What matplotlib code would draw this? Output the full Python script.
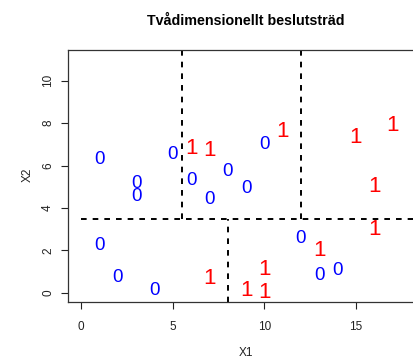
import matplotlib
matplotlib.use('Agg')
import matplotlib.pyplot as plt

plt.rcParams['font.family'] = ['Liberation Sans', 'DejaVu Sans']

# class 0 points (blue)
x0 = [1, 3, 3, 5, 6, 7, 8, 9, 10, 1, 2, 4, 12, 13, 14]
y0 = [6.3, 5.15, 4.55, 6.5, 5.3, 4.4, 5.7, 4.9, 7.0, 2.25, 0.75, 0.1, 2.55, 0.8, 1.05]

# class 1 points (red)
x1 = [6, 7, 11, 15, 17, 16, 16, 13, 10, 9, 10, 7]
y1 = [6.8, 6.7, 7.6, 7.3, 7.9, 5.0, 3.0, 2.0, 1.1, 0.1, 0.0, 0.7]

# tree splits
split_y = 3.5
split_x_top = [5.5, 12]
split_x_bottom = [8]

xticks = [0, 5, 10, 15]
yticks = [0, 2, 4, 6, 8, 10]

W, H = 414, 360
fig = plt.figure(figsize=(W / 100, H / 100), dpi=100)
ax = fig.add_axes([68 / W, (H - 302.3) / H, (424 - 68) / W, (302.3 - 50) / H])

for x, y in zip(x0, y0):
    ax.text(x, y, '0', color='#0000FF', fontsize=13.5, ha='center', va='center')
for x, y in zip(x1, y1):
    ax.text(x, y, '1', color='#FF0000', fontsize=16, ha='center', va='center')

dash = dict(color='black', lw=1.4, dashes=(2.9, 3.1))
ax.plot([0, 20], [split_y, split_y], **dash)
for sx in split_x_top:
    ax.plot([sx, sx], [split_y, 12], **dash)
for sx in split_x_bottom:
    ax.plot([sx, sx], [-1, split_y], **dash)

ax.set_xlim(-0.72, 18.72)
ax.set_ylim(-0.44, 11.44)
ax.set_xticks(xticks)
ax.set_yticks(yticks)
ax.tick_params(axis='both', length=5, width=0.8, labelsize=8.5, colors='#222222')
ax.tick_params(axis='x', pad=8.5)
ax.tick_params(axis='y', pad=5)
for lab in ax.get_yticklabels():
    lab.set_rotation(90)
    lab.set_va('center')
for s in ax.spines.values():
    s.set_linewidth(0.9)
    s.set_color('#333333')

fig.text(246 / W, 1 - 21 / H, 'Tvådimensionellt beslutsträd', ha='center', va='center',
         fontsize=10.3, fontweight='bold')
fig.text(246 / W, 1 - 353 / H, 'X1', ha='center', va='center', fontsize=8.5, color='#222222')
fig.text(28 / W, 1 - 175 / H, 'X2', ha='center', va='center', fontsize=8.5, rotation=90,
         color='#222222')

fig.savefig('out.png', dpi=100)
